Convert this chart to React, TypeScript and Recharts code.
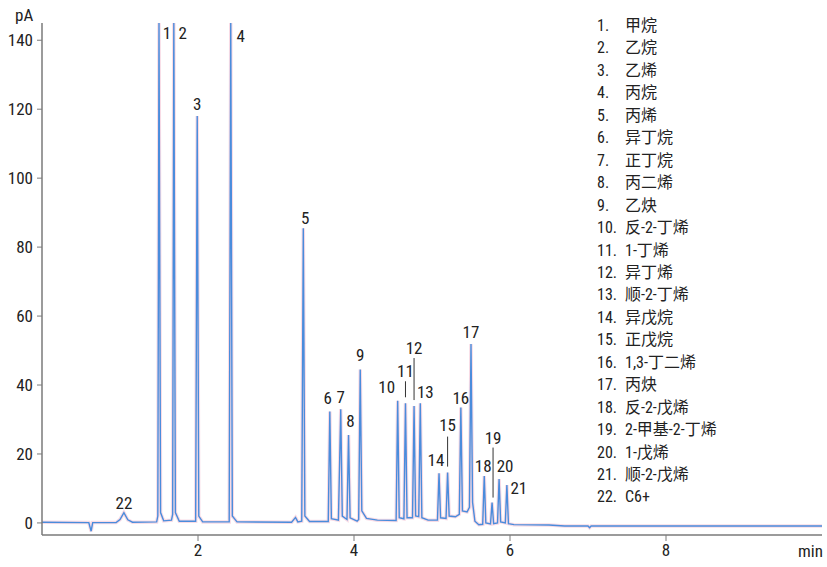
import React from 'react';
import { ComposedChart, Line, XAxis, YAxis, ReferenceDot } from 'recharts';

// chromatogram trace: [time (min), signal (pA)]
const tracePoints: [number, number][] = [
  [0.0, 0.2], [0.6, 0.1], [0.63, -2.4], [0.65, 0.1], [0.95, 0.1],
  [1.0, 1.0], [1.05, 3.0], [1.1, 0.9], [1.16, 0.2], [1.47, 0.3],
  [1.485, 2], [1.5, 145], [1.52, 3], [1.56, 0.6],
  [1.66, 0.8], [1.675, 2.5], [1.69, 145], [1.71, 3], [1.76, 0.5],
  [1.97, 0.5], [1.99, 118], [2.01, 2], [2.06, 0.3],
  [2.4, 0.3], [2.42, 145], [2.44, 2], [2.5, 0.3],
  [3.2, 0.2], [3.25, 1.6], [3.28, 0.3],
  [3.33, 0.5], [3.35, 85.5], [3.37, 2], [3.43, 0.4],
  [3.67, 0.4], [3.69, 32.3], [3.71, 1.2],
  [3.8, 0.8], [3.83, 33], [3.85, 2],
  [3.91, 1], [3.93, 25.5], [3.95, 1.5], [4.04, 0.5],
  [4.06, 1], [4.08, 44.5], [4.1, 3.5], [4.16, 1.3], [4.3, 0.8],
  [4.54, 0.7], [4.56, 35.4], [4.58, 1.5],
  [4.64, 1.2], [4.66, 34.7], [4.68, 1.5],
  [4.75, 1.5], [4.77, 33.9], [4.79, 2],
  [4.83, 1.8], [4.85, 34.7], [4.87, 1.5], [4.95, 0.8],
  [5.07, 0.8], [5.09, 14.4], [5.11, 1.5],
  [5.18, 1.3], [5.2, 14.6], [5.22, 2], [5.3, 1.8],
  [5.35, 2.5], [5.37, 33.5], [5.39, 3.5], [5.45, 3.2],
  [5.48, 4.5], [5.5, 51.9], [5.52, 6], [5.55, 0.5], [5.6, -0.5],
  [5.65, -0.4], [5.67, 13.6], [5.69, 0],
  [5.75, -0.3], [5.77, 5.9], [5.79, -0.2],
  [5.84, 0], [5.86, 12.7], [5.88, 0.3],
  [5.94, 0], [5.96, 11], [5.98, -0.2], [6.05, -0.5],
  [6.5, -0.6], [6.7, -0.9], [7.0, -0.9], [7.02, -1.4], [7.04, -0.9], [10.0, -0.9],
];

const peakIds = ['1', '2', '3', '4', '5', '6', '7', '8', '9', '10', '11', '12', '13', '14', '15', '16', '17', '18', '19', '20', '21', '22'];
const peakTime = [1.5, 1.69, 1.99, 2.42, 3.35, 3.69, 3.83, 3.93, 4.08, 4.56, 4.66, 4.77, 4.85, 5.09, 5.2, 5.37, 5.5, 5.67, 5.77, 5.86, 5.96, 1.05];
const peakHeight = [145, 145, 118, 145, 85.5, 32.3, 33, 25.5, 44.5, 35.4, 34.7, 33.9, 34.7, 14.4, 14.6, 33.5, 51.9, 13.6, 5.9, 12.7, 11, 3];

const compoundNames = [
  '甲烷', '乙烷', '乙烯', '丙烷', '丙烯', '异丁烷', '正丁烷', '丙二烯', '乙炔', '反-2-丁烯', '1-丁烯',
  '异丁烯', '顺-2-丁烯', '异戊烷', '正戊烷', '1,3-丁二烯', '丙炔', '反-2-戊烯', '2-甲基-2-丁烯', '1-戊烯', '顺-2-戊烯', 'C6+',
];

const xTicks = [2, 4, 6, 8];
const yTicks = [0, 20, 40, 60, 80, 100, 120, 140];

const chartData = tracePoints.map(([t, v]) => ({ t, v }));

// label placement around each apex (px), with optional leader line [from, to]
const labelLayout: Record<string, { dx: number; dy: number; lead?: [number, number] }> = {
  '1': { dx: 8, dy: 10 },
  '2': { dx: 9, dy: 10 },
  '3': { dx: 0, dy: -12 },
  '4': { dx: 10, dy: 13 },
  '5': { dx: 2, dy: -10 },
  '6': { dx: -2, dy: -14 },
  '7': { dx: 0, dy: -12 },
  '8': { dx: 2, dy: -14 },
  '9': { dx: 0, dy: -15 },
  '10': { dx: -11, dy: -14 },
  '11': { dx: 0, dy: -32, lead: [-22, -6] },
  '12': { dx: 0, dy: -58, lead: [-48, -6] },
  '13': { dx: 5, dy: -11 },
  '14': { dx: -3, dy: -13 },
  '15': { dx: 0, dy: -48, lead: [-36, -6] },
  '16': { dx: 0, dy: -9 },
  '17': { dx: 0, dy: -12 },
  '18': { dx: -1, dy: -10 },
  '19': { dx: 1, dy: -65, lead: [-55, -5] },
  '20': { dx: 6, dy: -13 },
  '21': { dx: 12, dy: 3 },
  '22': { dx: 0, dy: -10 },
};

const narrow = "'Liberation Sans Narrow', 'Roboto Condensed', 'DejaVu Sans Condensed', 'DejaVu Sans', 'Noto Sans CJK SC', sans-serif";
const ink = '#222';
const axisGray = '#7a7a7a';
const tickStyle = { fontSize: 17, fill: ink, fontFamily: narrow, fontStretch: 'condensed' };

const PeakLabel = ({ cx, cy, id }: { cx?: number; cy?: number; id: string }) => {
  if (cx == null || cy == null) return null;
  const lay = labelLayout[id];
  return (
    <g>
      {lay.lead && (
        <line x1={cx + lay.dx} x2={cx + lay.dx} y1={cy + lay.lead[0]} y2={cy + lay.lead[1]} stroke="#333" strokeWidth={1} />
      )}
      <text
        x={cx + lay.dx}
        y={cy + lay.dy}
        textAnchor="middle"
        dominantBaseline="central"
        fontFamily={narrow}
        fontSize={17}
        fill={ink}
        style={{ fontStretch: 'condensed' }}
      >
        {id}
      </text>
    </g>
  );
};

export default function App() {
  return (
    <div
      style={{
        position: 'relative',
        width: 827,
        height: 567,
        background: '#fff',
        fontFamily: narrow,
        fontStretch: 'condensed',
        overflow: 'hidden',
      }}
    >
      <style>{'body{margin:0}'}</style>
      <ComposedChart width={827} height={567} data={chartData} margin={{ top: 23, right: 5, left: 0, bottom: 2 }}>
        <XAxis
          dataKey="t"
          type="number"
          domain={[0, 10]}
          ticks={xTicks}
          interval={0}
          height={30}
          tickSize={6}
          tickMargin={3}
          axisLine={{ stroke: axisGray, strokeWidth: 1.5 }}
          tickLine={{ stroke: axisGray }}
          tick={tickStyle}
        />
        <YAxis
          type="number"
          domain={[-3.5, 145]}
          ticks={yTicks}
          interval={0}
          width={42}
          tickSize={5}
          tickMargin={4}
          axisLine={{ stroke: axisGray, strokeWidth: 1.5 }}
          tickLine={{ stroke: axisGray }}
          tick={tickStyle}
        />
        <Line dataKey="v" type="linear" stroke="#f8dbe5" strokeWidth={3.5} dot={false} isAnimationActive={false} />
        <Line dataKey="v" type="linear" stroke="#4a8cdc" strokeWidth={1.4} dot={false} isAnimationActive={false} />
        {peakIds.map((id, i) => (
          <ReferenceDot
            key={id}
            x={peakTime[i]}
            y={peakHeight[i]}
            r={0}
            ifOverflow="visible"
            shape={(p: any) => <PeakLabel cx={p.cx} cy={p.cy} id={id} />}
          />
        ))}
      </ComposedChart>

      <div style={{ position: 'absolute', left: 15, top: 5, fontSize: 17, lineHeight: '20px', color: ink }}>pA</div>
      <div style={{ position: 'absolute', left: 798, top: 541, fontSize: 17, lineHeight: '20px', color: ink }}>min</div>

      {compoundNames.map((name, i) => (
        <div
          key={name}
          style={{
            position: 'absolute',
            left: 597,
            top: 26 + i * 22.45 - 11,
            height: 22,
            lineHeight: '22px',
            fontSize: 16,
            color: ink,
            whiteSpace: 'nowrap',
          }}
        >
          <span style={{ display: 'inline-block', width: 28 }}>{peakIds[i]}.</span>
          <span>{name}</span>
        </div>
      ))}
    </div>
  );
}
